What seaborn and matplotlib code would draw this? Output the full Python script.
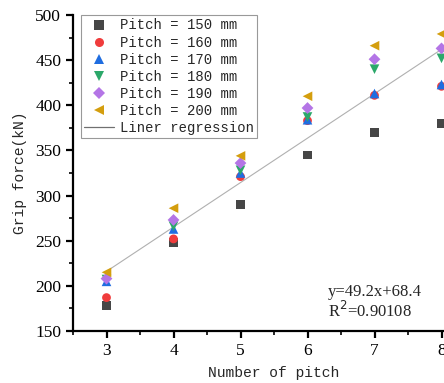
import numpy as np
import pandas as pd
import matplotlib
matplotlib.use("Agg")
import matplotlib.pyplot as plt
import seaborn as sns
from matplotlib.lines import Line2D
from matplotlib.ticker import MultipleLocator

x_pitch = [3, 4, 5, 6, 7, 8]
p150 = [178, 248, 290, 345, 370, 380]
p160 = [187, 252, 321, 383, 411, 421]
p170 = [205, 263, 325, 384, 413, 423]
p180 = [207, 266, 328, 387, 440, 452]
p190 = [208, 273, 336, 397, 451, 463]
p200 = [215, 286, 344, 410, 466, 479]
labels = ["Pitch = 150 mm", "Pitch = 160 mm", "Pitch = 170 mm",
          "Pitch = 180 mm", "Pitch = 190 mm", "Pitch = 200 mm"]
slope, intercept, r2 = 49.2, 68.4, 0.90108

colors = ["#464646", "#f03c3c", "#1f6de0", "#2ca86a", "#b475e6", "#d49e0e"]
markers = ["s", "o", "^", "v", "D", "<"]
sizes = [40, 40, 48, 48, 36, 48]

sns.set_style("ticks")
plt.rcParams['font.family'] = ['Liberation Serif', 'DejaVu Serif']

rows = []
for lab, vals in zip(labels, [p150, p160, p170, p180, p190, p200]):
    for xv, yv in zip(x_pitch, vals):
        rows.append({"x": xv, "y": yv, "series": lab})
df = pd.DataFrame(rows)

fig = plt.figure(figsize=(4.44, 3.83), dpi=100)
ax = fig.add_axes([73/444, 52/383, 402/444, 316/383])

for lab, c, m, s in zip(labels, colors, markers, sizes):
    sub = df[df.series == lab]
    sns.scatterplot(data=sub, x="x", y="y", color=c, marker=m, s=s,
                    edgecolor="none", ax=ax, zorder=3, clip_on=False)

xl = np.array([x_pitch[0], x_pitch[-1]])
sns.lineplot(x=xl, y=slope * xl + intercept, color="#b0b0b0", lw=0.8, ax=ax, zorder=2)

ax.set_xlim(2.5, 8.5)
ax.set_ylim(150, 500)
ax.xaxis.set_major_locator(MultipleLocator(1))
ax.xaxis.set_minor_locator(MultipleLocator(0.5))
ax.yaxis.set_major_locator(MultipleLocator(50))
ax.yaxis.set_minor_locator(MultipleLocator(25))
for sp in ["top", "right"]:
    ax.spines[sp].set_visible(False)
for sp in ["left", "bottom"]:
    ax.spines[sp].set_linewidth(1.6)
    ax.spines[sp].set_color("black")
ax.tick_params(which="major", direction="out", length=5, width=1.6, labelsize=12.5, colors="black")
ax.tick_params(which="minor", direction="out", length=3, width=1.4)
mono = ["Liberation Mono", "DejaVu Sans Mono"]
ax.set_xlabel("Number of pitch", fontsize=10.5, family=mono, labelpad=5)
ax.set_ylabel("Grip force(kN)", fontsize=10.5, family=mono, labelpad=6)

handles = [Line2D([], [], ls="none", marker=m, color=c, markersize=6.5, markeredgewidth=0)
           for c, m in zip(colors, markers)]
handles.append(Line2D([], [], color="#707070", lw=0.9))
leg = ax.legend(handles, labels + ["Liner regression"], loc="upper left",
                bbox_to_anchor=(81/444, 1 - 15/383), bbox_transform=fig.transFigure,
                frameon=True, fancybox=False, framealpha=1, edgecolor="#999999",
                prop={"family": mono, "size": 10},
                handlelength=2.1, handletextpad=0.45, labelspacing=0.22,
                borderpad=0.25, borderaxespad=0)
leg.get_frame().set_linewidth(0.8)

fig.text(328/444, 1 - 292/383, "y=49.2x+68.4", fontsize=12, va="center")
fig.text(328/444, 1 - 311/383, "R$^2$=0.90108", fontsize=12, va="center")

fig.savefig("out.png", dpi=100)
